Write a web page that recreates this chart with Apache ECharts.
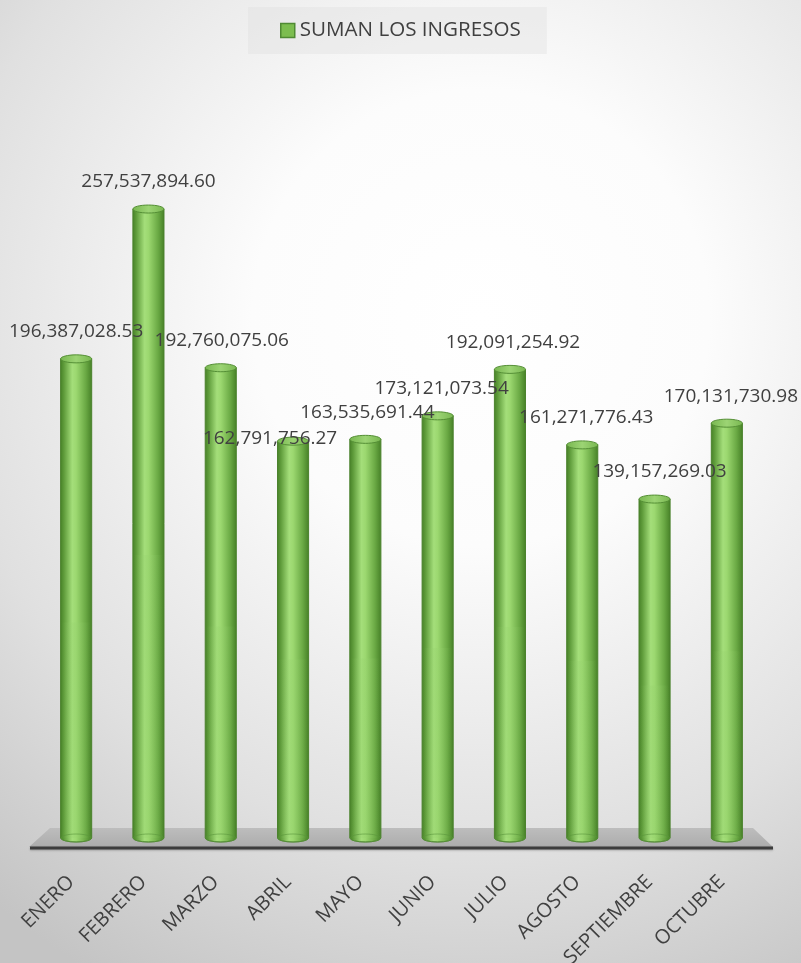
<!DOCTYPE html>
<html>
<head>
<meta charset="utf-8">
<script src="https://cdn.jsdelivr.net/npm/echarts@6/dist/echarts.min.js"></script>
<style>
html,body{margin:0;padding:0;background:#fff;}
#chart{width:801px;height:963px;}
</style>
</head>
<body>
<div id="chart"></div>
<script>
// ---- data ----
const seriesName = 'SUMAN LOS INGRESOS';
const months = ['ENERO','FEBRERO','MARZO','ABRIL','MAYO','JUNIO','JULIO','AGOSTO','SEPTIEMBRE','OCTUBRE'];
const ingresos = [196387028.53, 257537894.60, 192760075.06, 162791756.27, 163535691.44, 173121073.54, 192091254.92, 161271776.43, 139157269.03, 170131730.98];

// ---- label styling nudges (not data) ----
const labelDx = [0, 0, 1, -23, 2, 4, 3, 4, 5, 4];
const labelDy = [0, 0, 0, 24, 0, 0, 0, 0, 0, 0];

const FONT = '"Open Sans", "DejaVu Sans", sans-serif';
const TXT = '#404040';

function fmt(v){
  return Number(v).toLocaleString('en-US',{minimumFractionDigits:2, maximumFractionDigits:2});
}

function renderItem(params, api){
  const i = api.value(0), v = api.value(1);
  const top = api.coord([i, v]);
  const base = api.coord([i, 0]);
  const w = api.size([1, 0])[0] * 0.43;
  const rx = w / 2, ry = 4;
  const cx = top[0];
  const yCap = top[1] + ry;
  const yBot = base[1] + 2;
  const L = cx - rx, R = cx + rx;
  const bodyGrad = new echarts.graphic.LinearGradient(0, 0, 1, 0, [
    {offset: 0, color: '#457f26'},
    {offset: 0.12, color: '#5f9c3b'},
    {offset: 0.38, color: '#a4de7a'},
    {offset: 0.5, color: '#9cd870'},
    {offset: 0.8, color: '#6aa944'},
    {offset: 1, color: '#457f26'}
  ]);
  const lowGrad = new echarts.graphic.LinearGradient(0, 0, 1, 0, [
    {offset: 0, color: 'rgba(140,200,100,0.0)'},
    {offset: 0.5, color: 'rgba(150,210,110,0.3)'},
    {offset: 1, color: 'rgba(140,200,100,0.0)'}
  ]);
  const capGrad = new echarts.graphic.LinearGradient(0, 0, 1, 0, [
    {offset: 0, color: '#78b750'},
    {offset: 0.5, color: '#9cd474'},
    {offset: 1, color: '#78b750'}
  ]);
  const path = 'M' + L + ' ' + yCap + ' L' + L + ' ' + yBot +
    ' A' + rx + ' ' + ry + ' 0 0 0 ' + R + ' ' + yBot +
    ' L' + R + ' ' + yCap + ' Z';
  const h = yBot - yCap;
  return {
    type: 'group',
    children: [
      {type: 'path', shape: {pathData: path}, style: {fill: bodyGrad, stroke: '#4b822d', lineWidth: 1}},
      {type: 'rect', shape: {x: L + 1, y: yCap + h * 0.55, width: w - 2, height: h * 0.45}, style: {fill: lowGrad}},
      {type: 'ellipse', shape: {cx: cx, cy: yBot, rx: rx - 0.5, ry: ry}, style: {fill: 'rgba(0,0,0,0)', stroke: 'rgba(90,150,60,0.6)', lineWidth: 1}},
      {type: 'ellipse', shape: {cx: cx, cy: yCap, rx: rx, ry: ry}, style: {fill: capGrad, stroke: '#558f36', lineWidth: 1}},
      {type: 'text', z2: 100, x: cx + labelDx[i], y: top[1] - 23 + labelDy[i],
        style: {text: fmt(v), fill: TXT, fontSize: 19, fontFamily: FONT, align: 'center', verticalAlign: 'middle'}}
    ]
  };
}

const chart = echarts.init(document.getElementById('chart'), null, {renderer: 'canvas'});
const option = {
  animation: false,
  backgroundColor: {
    type: 'radial', x: 0.6, y: 0.33, r: 0.95,
    colorStops: [
      {offset: 0, color: '#ffffff'},
      {offset: 0.3, color: '#fcfcfc'},
      {offset: 0.7, color: '#e0e0e0'},
      {offset: 1, color: '#c4c4c4'}
    ]
  },
  legend: {
    data: [seriesName],
    left: 248, top: 7,
    padding: [13, 26, 13, 32],
    backgroundColor: 'rgba(220,220,220,0.35)',
    icon: 'rect', itemWidth: 14, itemHeight: 14, itemGap: 6,
    itemStyle: {color: '#7cbd4f', borderColor: '#4f8a33', borderWidth: 1.5},
    textStyle: {fontSize: 20.6, fontFamily: FONT, color: TXT}
  },
  grid: {left: 40, right: 38, top: 101, bottom: 127, containLabel: false, outerBoundsMode: 'none'},
  xAxis: {
    type: 'category', data: months,
    axisLine: {show: false}, axisTick: {show: false}, splitLine: {show: false},
    axisLabel: {rotate: 45, margin: 38, fontSize: 20, fontFamily: FONT, color: TXT, interval: 0,
      padding: [0, 7, 0, 0]}
  },
  yAxis: {type: 'value', min: 0, max: 300000000, show: false},
  graphic: [
    {type: 'polygon', z: 0, shape: {points: [[50, 828], [753, 828], [773, 847], [29, 847]]},
      style: {fill: new echarts.graphic.LinearGradient(0, 0, 0, 1, [
        {offset: 0, color: '#bdbdbd'}, {offset: 1, color: '#acacac'}])}},
    {type: 'line', z: 0, shape: {x1: 30, y1: 848, x2: 773, y2: 848},
      style: {stroke: '#3c3c3c', lineWidth: 3, shadowColor: 'rgba(0,0,0,0.25)', shadowBlur: 2, shadowOffsetY: 1}}
  ],
  series: [{
    name: seriesName,
    type: 'custom',
    z: 5,
    renderItem: renderItem,
    itemStyle: {color: '#7cbd4f'},
    encode: {x: 0, y: 1},
    data: ingresos.map((v, i) => [i, v])
  }]
};
chart.setOption(option);
</script>
</body>
</html>
